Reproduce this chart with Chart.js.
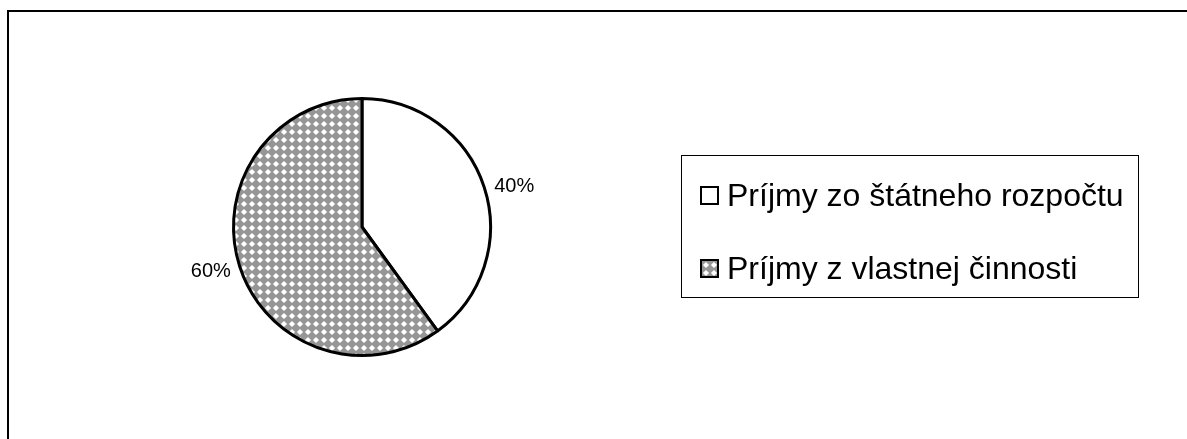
<!DOCTYPE html>
<html>
<head>
<meta charset="utf-8">
<script src="https://cdn.jsdelivr.net/npm/chart.js@4"></script>
<style>
  html, body { margin: 0; padding: 0; background: #fff; }
  body { width: 1187px; height: 439px; position: relative; overflow: hidden; font-family: "Liberation Sans", Arial, sans-serif; }
  #frame { position: absolute; left: 7px; top: 10px; width: 1300px; height: 600px; border: 1px solid #000; border-width: 2px 0 0 2px; box-sizing: border-box; }
  #chartWrap { position: absolute; left: 0; top: 0; width: 1187px; height: 439px; }
  #legend { position: absolute; left: 681px; top: 155px; width: 458px; height: 143px; border: 1px solid #000; box-sizing: border-box; }
  .item { position: absolute; left: 18px; display: flex; align-items: center; font-size: 32px; line-height: 36px; color: #000; white-space: nowrap; }
  .mark { width: 15px; height: 15px; border: 2px solid #000; margin-right: 8px; background: #fff; }
</style>
</head>
<body>
<div id="frame"></div>
<div id="chartWrap"><canvas id="chartCanvas"></canvas></div>
<div id="legend"></div>
<script>
    // --- Data ---
    const categories = ['Príjmy zo štátneho rozpočtu', 'Príjmy z vlastnej činnosti'];
    const shares = [40, 60];
    const shareLabels = ['40%', '60%'];

    // --- Checker pattern for the second slice ---
    function makePattern() {
        const c = document.createElement('canvas');
        c.width = 8; c.height = 8;
        const g = c.getContext('2d');
        g.fillStyle = '#969696';
        g.fillRect(0, 0, 8, 8);
        g.fillStyle = '#ffffff';
        g.beginPath();
        g.moveTo(4, 0.9); g.lineTo(7.1, 4); g.lineTo(4, 7.1); g.lineTo(0.9, 4);
        g.closePath();
        g.fill();
        return c;
    }
    const patternCanvas = makePattern();
    const ctx = document.getElementById('chartCanvas').getContext('2d');
    const pattern = ctx.createPattern(patternCanvas, 'repeat');

    // --- Legend (HTML) ---
    const legend = document.getElementById('legend');
    const rowTops = [40 - 19, 113 - 19];
    categories.forEach((name, i) => {
        const item = document.createElement('div');
        item.className = 'item';
        item.style.top = rowTops[i] + 'px';
        const mark = document.createElement('span');
        mark.className = 'mark';
        if (i === 1) mark.style.background = `url(${patternCanvas.toDataURL()})`;
        const txt = document.createElement('span');
        txt.textContent = name;
        item.appendChild(mark);
        item.appendChild(txt);
        legend.appendChild(item);
    });

    // --- Percentage labels outside the slices ---
    const outsideLabels = {
        id: 'outsideLabels',
        afterDatasetsDraw(chart) {
            const c = chart.ctx;
            const meta = chart.getDatasetMeta(0);
            c.save();
            c.font = '20px "Liberation Sans", Arial, sans-serif';
            c.fillStyle = '#000';
            c.textBaseline = 'middle';
            meta.data.forEach((arc, i) => {
                const mid = (arc.startAngle + arc.endAngle) / 2;
                const x = arc.x + Math.cos(mid) * arc.outerRadius;
                const y = arc.y + Math.sin(mid) * arc.outerRadius;
                const right = Math.cos(mid) >= 0;
                c.textAlign = right ? 'left' : 'right';
                c.fillText(shareLabels[i], x + (right ? 10 : -9), y + (right ? -1 : 5));
            });
            c.restore();
        }
    };

    new Chart(ctx, {
        type: 'pie',
        data: {
            labels: categories,
            datasets: [{
                data: shares,
                backgroundColor: ['#ffffff', pattern],
                borderColor: '#000000',
                borderWidth: 3
            }]
        },
        options: {
            responsive: true,
            maintainAspectRatio: false,
            animation: false,
            layout: { padding: { left: 232, right: 695, top: 97, bottom: 82 } },
            plugins: {
                legend: { display: false },
                tooltip: { enabled: false }
            }
        },
        plugins: [outsideLabels]
    });
</script>
</body>
</html>
